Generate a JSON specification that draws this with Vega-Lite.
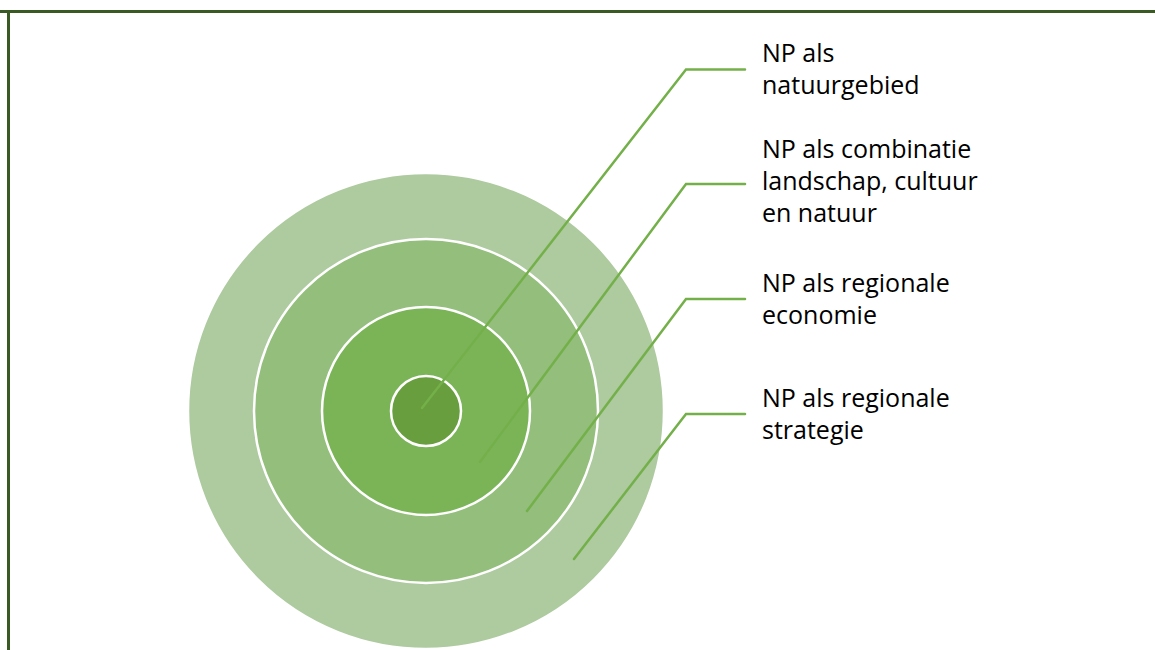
{
  "$schema": "https://vega.github.io/schema/vega-lite/v6.json",
  "width": 1155,
  "height": 650,
  "autosize": {"type": "none"},
  "padding": 0,
  "background": "white",
  "config": {"view": {"stroke": null}},
  "datasets": {
    "rings": [
      {"ring": "NP als regionale strategie", "cx": 426, "cy": 411, "r": 238, "z": 1},
      {"ring": "NP als regionale economie", "cx": 426, "cy": 411, "r": 172, "z": 2},
      {"ring": "NP als combinatie landschap, cultuur en natuur", "cx": 426, "cy": 411, "r": 104, "z": 3},
      {"ring": "NP als natuurgebied", "cx": 426, "cy": 411, "r": 35, "z": 4}
    ],
    "callouts": [
      {"label": "1", "step": 1, "x": 422, "y": 408},
      {"label": "1", "step": 2, "x": 686, "y": 69.5},
      {"label": "1", "step": 3, "x": 745, "y": 69.5},
      {"label": "2", "step": 1, "x": 480, "y": 462},
      {"label": "2", "step": 2, "x": 686, "y": 184},
      {"label": "2", "step": 3, "x": 745, "y": 184},
      {"label": "3", "step": 1, "x": 527, "y": 511},
      {"label": "3", "step": 2, "x": 686, "y": 299},
      {"label": "3", "step": 3, "x": 745, "y": 299},
      {"label": "4", "step": 1, "x": 574, "y": 559},
      {"label": "4", "step": 2, "x": 686, "y": 414},
      {"label": "4", "step": 3, "x": 745, "y": 414}
    ],
    "labels": [
      {"text": "NP als\nnatuurgebied", "x": 762, "y": 62},
      {"text": "NP als combinatie\nlandschap, cultuur\nen natuur", "x": 762, "y": 158},
      {"text": "NP als regionale\neconomie", "x": 762, "y": 292},
      {"text": "NP als regionale\nstrategie", "x": 762, "y": 407}
    ],
    "frame": [
      {"side": "top", "x": 0, "x2": 1155, "y": 11.5, "y2": 11.5},
      {"side": "left", "x": 8.5, "x2": 8.5, "y": 10, "y2": 650}
    ]
  },
  "layer": [
    {
      "data": {"name": "rings"},
      "mark": {"type": "point", "shape": "circle", "filled": true, "opacity": 1, "stroke": "white", "strokeWidth": 2.5},
      "encoding": {
        "x": {"field": "cx", "type": "quantitative", "scale": {"domain": [0, 1155], "nice": false, "zero": false}, "axis": null},
        "y": {"field": "cy", "type": "quantitative", "scale": {"domain": [0, 650], "nice": false, "zero": false, "reverse": true}, "axis": null},
        "size": {"field": "r", "type": "quantitative", "scale": {"type": "pow", "exponent": 2, "domain": [0, 238], "range": [0, 226576]}, "legend": null},
        "color": {"field": "ring", "type": "nominal", "scale": {"domain": ["NP als regionale strategie", "NP als regionale economie", "NP als combinatie landschap, cultuur en natuur", "NP als natuurgebied"], "range": ["#AECA9F", "#94BE7C", "#7BB457", "#689E3E"]}, "legend": null},
        "order": {"field": "z", "type": "quantitative"}
      }
    },
    {
      "data": {"name": "callouts"},
      "mark": {"type": "line", "color": "#74B04A", "strokeWidth": 2.5, "strokeCap": "round"},
      "encoding": {
        "x": {"field": "x", "type": "quantitative"},
        "y": {"field": "y", "type": "quantitative"},
        "detail": {"field": "label"},
        "order": {"field": "step", "type": "quantitative"}
      }
    },
    {
      "data": {"name": "labels"},
      "mark": {"type": "text", "align": "left", "baseline": "alphabetic", "font": "Open Sans", "fontSize": 25, "lineHeight": 32, "lineBreak": "\n", "color": "#000000"},
      "encoding": {
        "x": {"field": "x", "type": "quantitative"},
        "y": {"field": "y", "type": "quantitative"},
        "text": {"field": "text"}
      }
    },
    {
      "data": {"name": "frame"},
      "mark": {"type": "rule", "color": "#3A5A24", "strokeWidth": 3},
      "encoding": {
        "x": {"field": "x", "type": "quantitative"},
        "x2": {"field": "x2"},
        "y": {"field": "y", "type": "quantitative"},
        "y2": {"field": "y2"}
      }
    }
  ]
}
